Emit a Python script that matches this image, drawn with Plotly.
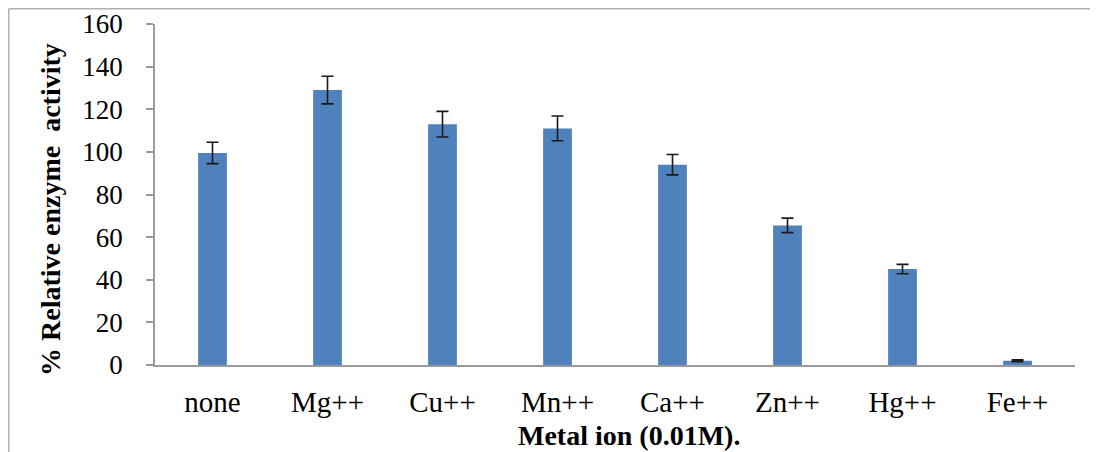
import plotly.graph_objects as go

categories = ["none", "Mg++", "Cu++", "Mn++", "Ca++", "Zn++", "Hg++", "Fe++"]
activity = [99.5, 129, 113, 111, 94, 65.5, 45, 2]
errors = [5, 6.5, 6, 5.8, 4.8, 3.4, 2.2, 0.4]
y_ticks = [0, 20, 40, 60, 80, 100, 120, 140, 160]

# page has an 8px body margin; figure coordinates = page coordinates - 8
OFF = 8
W, H = 1090, 444
plot_left, plot_right, plot_top, plot_bottom = 155, 1075, 24, 365  # page px
L = plot_left - OFF
R = W - (plot_right - OFF)
T = plot_top - OFF
B = H - (plot_bottom - OFF)
pw, ph = W - L - R, H - T - B

def px(x):
    return (x - plot_left) / pw

def py(y):
    return (plot_bottom - y) / ph

fig = go.Figure()
fig.add_trace(go.Bar(
    x=categories, y=activity,
    marker=dict(color="#4F81BD", line=dict(width=0)),
    error_y=dict(type="data", array=errors, visible=True,
                 color="#1a1a1a", thickness=1.6, width=6),
))

font = "Liberation Serif, Times New Roman, serif"
fig.update_layout(
    width=W, height=H,
    margin=dict(l=L, r=R, t=T, b=B, autoexpand=False),
    paper_bgcolor="white", plot_bgcolor="white",
    bargap=0.75, showlegend=False,
    font=dict(family=font, color="black"),
    xaxis=dict(showline=True, linecolor="#9a9a9a", linewidth=1.5,
               ticks="", tickfont=dict(size=29, family=font, color="black"),
               ticklabelstandoff=10, showgrid=False, automargin=False),
    yaxis=dict(range=[0, 160], tickvals=y_ticks, showline=True,
               linecolor="#9a9a9a", linewidth=1.5, ticks="outside",
               ticklen=7, tickcolor="#9a9a9a", tickwidth=1.5,
               tickfont=dict(size=27, family=font, color="black"),
               ticklabelstandoff=18, showgrid=False, zeroline=False,
               automargin=False),
    annotations=[
        dict(text="<b>Metal ion (0.01M).</b>", xref="paper", yref="paper",
             x=px(629), y=py(435), xanchor="center", yanchor="middle",
             showarrow=False, font=dict(size=28, family=font, color="black")),
        dict(text="<b>% Relative enzyme  activity</b>", xref="paper", yref="paper",
             x=px(50), y=py(210), xanchor="center", yanchor="middle",
             textangle=-90, showarrow=False,
             font=dict(size=28, family=font, color="black")),
    ],
    shapes=[
        dict(type="line", xref="paper", yref="paper", x0=px(8.75), x1=px(1110),
             y0=py(8.75), y1=py(8.75), line=dict(color="#b0b0b0", width=1.5)),
        dict(type="line", xref="paper", yref="paper", x0=px(8.75), x1=px(8.75),
             y0=py(8.75), y1=py(460), line=dict(color="#b0b0b0", width=1.5)),
    ],
)

fig.write_html("out.html")
